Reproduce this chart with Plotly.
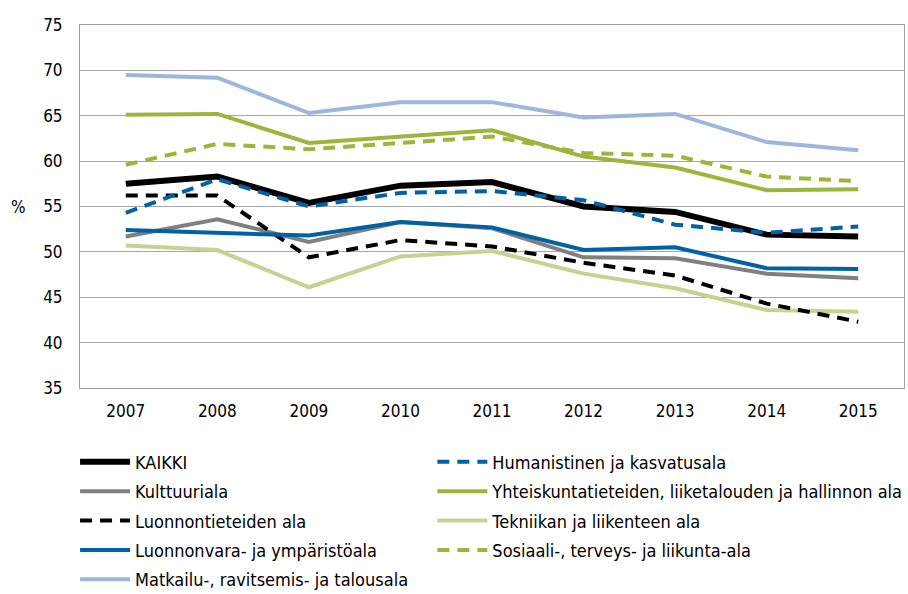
import plotly.graph_objects as go

years = ["2007", "2008", "2009", "2010", "2011", "2012", "2013", "2014", "2015"]

kaikki = [57.5, 58.3, 55.4, 57.3, 57.7, 55.0, 54.4, 51.9, 51.7]
humanistinen = [54.3, 58.0, 55.0, 56.5, 56.7, 55.7, 53.0, 52.1, 52.8]
kulttuuriala = [51.7, 53.6, 51.1, 53.3, 52.6, 49.4, 49.3, 47.6, 47.1]
yhteiskunta = [65.1, 65.2, 62.0, 62.7, 63.4, 60.5, 59.3, 56.8, 56.9]
luonnontieteet = [56.2, 56.2, 49.4, 51.3, 50.6, 48.8, 47.4, 44.3, 42.3]
tekniikka = [50.7, 50.2, 46.1, 49.5, 50.1, 47.6, 46.0, 43.6, 43.4]
luonnonvara = [52.4, 52.1, 51.8, 53.3, 52.7, 50.2, 50.5, 48.2, 48.1]
sosiaali = [59.6, 61.9, 61.3, 62.0, 62.7, 60.9, 60.6, 58.3, 57.8]
matkailu = [69.5, 69.2, 65.3, 66.5, 66.5, 64.8, 65.2, 62.1, 61.2]

y_ticks = [35, 40, 45, 50, 55, 60, 65, 70, 75]

FONT = "DejaVu Sans Condensed, Liberation Sans Narrow, sans-serif"
DASH = "12px,8px"

series = [
    # name, data, color, width, dash, legend
    ("Kulttuuriala", kulttuuriala, "#808080", 4, "solid", "legend"),
    ("Tekniikan ja liikenteen ala", tekniikka, "#C4D38F", 4, "solid", "legend2"),
    ("Luonnontieteiden ala", luonnontieteet, "#000000", 4, DASH, "legend"),
    ("Luonnonvara- ja ympäristöala", luonnonvara, "#0062A5", 4, "solid", "legend"),
    ("KAIKKI", kaikki, "#000000", 6, "solid", "legend"),
    ("Humanistinen ja kasvatusala", humanistinen, "#0062A5", 4, DASH, "legend2"),
    ("Yhteiskuntatieteiden, liiketalouden ja hallinnon ala", yhteiskunta, "#9CB53B", 4, "solid", "legend2"),
    ("Sosiaali-, terveys- ja liikunta-ala", sosiaali, "#9CB53B", 4, DASH, "legend2"),
    ("Matkailu-, ravitsemis- ja talousala", matkailu, "#9DB6DE", 4, "solid", "legend"),
]
rank = {
    "KAIKKI": 1, "Kulttuuriala": 2, "Luonnontieteiden ala": 3,
    "Luonnonvara- ja ympäristöala": 4, "Matkailu-, ravitsemis- ja talousala": 5,
    "Humanistinen ja kasvatusala": 1,
    "Yhteiskuntatieteiden, liiketalouden ja hallinnon ala": 2,
    "Tekniikan ja liikenteen ala": 3, "Sosiaali-, terveys- ja liikunta-ala": 4,
}

fig = go.Figure()
for name, data, color, width, dash, leg in series:
    fig.add_trace(go.Scatter(
        x=years, y=data, name=name, mode="lines",
        line=dict(color=color, width=width, dash=dash),
        legend=leg, legendgroup=name, legendrank=rank[name],
    ))

fig.update_layout(
    width=908, height=594,
    margin=dict(l=80, r=4, t=25, b=206, autoexpand=False),
    paper_bgcolor="white", plot_bgcolor="white",
    font=dict(family=FONT, size=18, color="#000000"),
    showlegend=True,
    legend=dict(x=-0.006, y=-0.153, xanchor="left", yanchor="top",
                orientation="v", tracegroupgap=3, itemwidth=50,
                font=dict(size=18), bgcolor="rgba(0,0,0,0)"),
    legend2=dict(x=0.4276, y=-0.153, xanchor="left", yanchor="top",
                 orientation="v", tracegroupgap=3, itemwidth=50,
                 font=dict(size=18), bgcolor="rgba(0,0,0,0)"),
    xaxis=dict(type="category", range=[-0.5, 8.5], showgrid=False,
               showline=True, linecolor="#A0A0A0", linewidth=1, mirror=True,
               ticks="", tickfont=dict(size=17), ticklabelstandoff=8,
               automargin=False),
    yaxis=dict(range=[35, 75], tickvals=y_ticks, showgrid=True,
               gridcolor="#A6A6A6", gridwidth=1, zeroline=False,
               showline=True, linecolor="#A0A0A0", linewidth=1, mirror=True,
               ticks="", tickfont=dict(size=17), ticklabelstandoff=13,
               automargin=False),
    annotations=[dict(text="%", xref="paper", yref="paper", x=-0.075, y=0.5,
                      xanchor="center", yanchor="middle", showarrow=False,
                      font=dict(size=17))],
)

fig.write_html("out.html", config={"displayModeBar": False},
               post_script="document.body.style.margin='0';document.body.style.padding='0';")
